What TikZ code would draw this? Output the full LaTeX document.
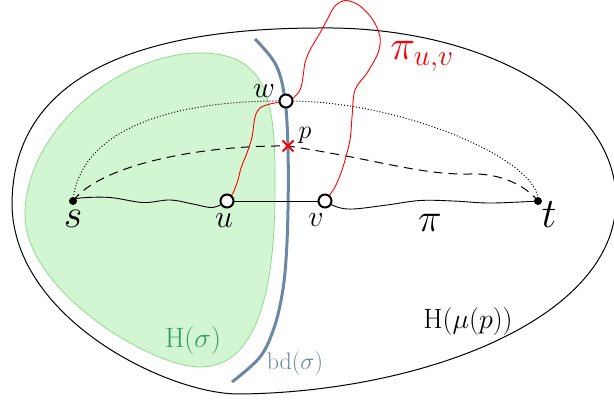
\documentclass[tikz,border=0pt]{standalone}
\usepackage{fix-cm}
\usetikzlibrary{calc}
\definecolor{hgreen}{HTML}{D2F5D2}
\definecolor{hgreenline}{HTML}{8EDB8E}
\definecolor{hgreentext}{HTML}{3C9A5C}
\definecolor{bdblue}{HTML}{6A87A6}
\tikzset{
  dot/.style={circle,fill=black,inner sep=0pt,minimum size=8pt},
  hollow/.style={circle,draw=black,fill=white,line width=2pt,inner sep=0pt,minimum size=13pt},
  lbl/.style={inner sep=0pt},
  wig/.style={line width=0.9pt},
  redpath/.style={red,line width=0.9pt},
}
\begin{document}
\begin{tikzpicture}[x=1pt,y=-1pt]
\useasboundingbox (0,0) rectangle (614,403);
\clip (0,0) rectangle (614,403);
% outer region H(mu(p))
\draw[line width=1pt] (12,205) .. controls (12,80) and (130,28) .. (320,28)
  .. controls (480,26) and (616,100) .. (616,200)
  .. controls (616,320) and (420,392) .. (240,394)
  .. controls (170,395) and (14,320) .. cycle;
% green region H(sigma)
\fill[hgreen,draw=hgreenline,line width=0.8pt] (200,53) .. controls (268,53) and (276,100) .. (275,190)
  .. controls (275,320) and (245,367) .. (200,367)
  .. controls (150,367) and (25,290) .. (25,215)
  .. controls (25,130) and (120,53) .. cycle;
% boundary bd(sigma)
\draw[bdblue,line width=3pt] plot[smooth,tension=0.6] coordinates {
 (255,39) (276,65) (285,100) (288,150) (288,210) (286,260) (282,295) (274,328) (260,357) (232,382)};
% coordinates
\coordinate (s) at (73,201);
\coordinate (u) at (227,201);
\coordinate (v) at (325,201);
\coordinate (t) at (538,201);
\coordinate (w) at (286,101);
\coordinate (p) at (288,146);
% dotted path s -> w -> t
\draw[dotted,line width=1pt] (s) .. controls (80,130) and (170,100) .. (w)
  .. controls (400,100) and (540,160) .. (t);
% dashed path s -> p -> t
\draw[dash pattern=on 9pt off 6pt,line width=1pt] (s) .. controls (100,165) and (200,145) .. (p)
  .. controls (380,160) and (420,175) .. (470,174)
  .. controls (500,173) and (525,185) .. (t);
% pi: s ~ u -- v ~ t
\draw[wig] plot[smooth,tension=0.6] coordinates {
 (s) (80,198) (110,197.5) (143,202.5) (170,200) (193,204) (213,207.5) (u)};
\draw[wig] (u) -- (v);
\draw[wig] plot[smooth,tension=0.6] coordinates {
 (v) (337,207) (353,209) (387,205) (420,200.5) (453,201) (487,203) (520,202) (t)};
% red path pi_{u,v}
\draw[redpath] plot[smooth,tension=0.55] coordinates {
 (u) (233,193) (238,180) (241,168) (247,153) (252,137) (255,117) (260,108) (270,104) (w)
 (292,99) (300,90) (303,77) (305,63) (310,50) (320,33) (327,20) (335,6) (346,0.5)
 (360,6) (373,20) (380,37) (378,53) (367,73) (355,90) (352,117) (350,140) (343,167) (335,187) (v)};
% red cross at p
\draw[red,line width=2pt] ($(p)+(-5.5,-5.5)$) -- ($(p)+(5.5,5.5)$)
  ($(p)+(-5.5,5.5)$) -- ($(p)+(5.5,-5.5)$);
% vertices
\node[dot] (sn) at (s) {};
\node[dot] (tn) at (t) {};
\node[hollow] (un) at (u) {};
\node[hollow] (vn) at (v) {};
\node[hollow] (wn) at (w) {};
% labels
\node[lbl] (sl) at (73,219) {\fontsize{40}{40}\selectfont$s$};
\node[lbl] (ul) at (224,221) {\fontsize{32}{32}\selectfont$u$};
\node[lbl] (vl) at (316,220) {\fontsize{30}{30}\selectfont$v$};
\node[lbl] (pil) at (430,223) {\fontsize{40}{40}\selectfont$\pi$};
\node[lbl] (tl) at (549,215) {\fontsize{42}{42}\selectfont$t$};
\node[lbl] (wl) at (264,91) {\fontsize{30}{30}\selectfont$w$};
\node[lbl] (pl) at (305,135) {\fontsize{26}{26}\selectfont$p$};
\node[lbl,red] (puv) at (422,56) {\fontsize{42}{42}\selectfont$\pi_{u,v}$};
\node[lbl] (hmu) at (468,322) {\fontsize{28}{28}\selectfont$\mathrm{H}(\mu(p))$};
\node[lbl,text=hgreentext] (hs) at (193,341) {\fontsize{28}{28}\selectfont$\mathrm{H}(\sigma)$};
\node[lbl,text=bdblue] (bd) at (295,364) {\fontsize{24}{24}\selectfont$\mathrm{bd}(\sigma)$};
\end{tikzpicture}
\end{document}
